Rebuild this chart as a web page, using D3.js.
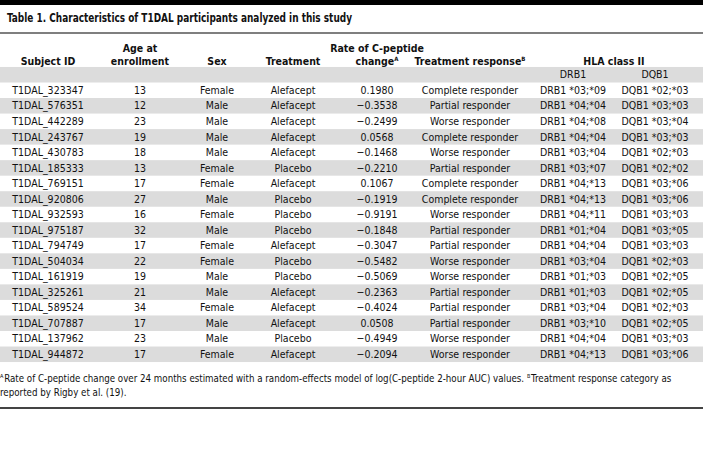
<!DOCTYPE html>
<html>
<head>
<meta charset="utf-8">
<script src="https://cdn.jsdelivr.net/npm/d3@7"></script>
<style>
  html, body { margin: 0; padding: 0; background: #fff; }
  svg { display: block; }
  text { font-family: "Liberation Sans Narrow", "DejaVu Sans Condensed", Roboto, sans-serif; fill: #111; }
</style>
</head>
<body>
<script>
const title = "Table 1. Characteristics of T1DAL participants analyzed in this study";
const subjectIds = ["T1DAL_323347","T1DAL_576351","T1DAL_442289","T1DAL_243767","T1DAL_430783","T1DAL_185333","T1DAL_769151","T1DAL_920806","T1DAL_932593","T1DAL_975187","T1DAL_794749","T1DAL_504034","T1DAL_161919","T1DAL_325261","T1DAL_589524","T1DAL_707887","T1DAL_137962","T1DAL_944872"];
const ages = [13,12,23,19,18,13,17,27,16,32,17,22,19,21,34,17,23,17];
const sexes = ["Female","Male","Male","Male","Male","Female","Female","Male","Female","Male","Female","Female","Male","Male","Female","Male","Male","Female"];
const treatments = ["Alefacept","Alefacept","Alefacept","Alefacept","Alefacept","Placebo","Alefacept","Placebo","Placebo","Placebo","Alefacept","Placebo","Placebo","Alefacept","Alefacept","Alefacept","Placebo","Alefacept"];
const rates = ["0.1980","−0.3538","−0.2499","0.0568","−0.1468","−0.2210","0.1067","−0.1919","−0.9191","−0.1848","−0.3047","−0.5482","−0.5069","−0.2363","−0.4024","0.0508","−0.4949","−0.2094"];
const responses = ["Complete responder","Partial responder","Worse responder","Complete responder","Worse responder","Partial responder","Complete responder","Complete responder","Worse responder","Partial responder","Partial responder","Worse responder","Worse responder","Partial responder","Partial responder","Partial responder","Worse responder","Worse responder"];
const drb1 = ["DRB1 *03;*09","DRB1 *04;*04","DRB1 *04;*08","DRB1 *04;*04","DRB1 *03;*04","DRB1 *03;*07","DRB1 *04;*13","DRB1 *04;*13","DRB1 *04;*11","DRB1 *01;*04","DRB1 *04;*04","DRB1 *03;*04","DRB1 *01;*03","DRB1 *01;*03","DRB1 *03;*04","DRB1 *03;*10","DRB1 *04;*04","DRB1 *04;*13"];
const dqb1 = ["DQB1 *02;*03","DQB1 *03;*03","DQB1 *03;*04","DQB1 *03;*03","DQB1 *02;*03","DQB1 *02;*02","DQB1 *03;*06","DQB1 *03;*06","DQB1 *03;*03","DQB1 *03;*05","DQB1 *03;*03","DQB1 *02;*03","DQB1 *02;*05","DQB1 *02;*05","DQB1 *02;*03","DQB1 *02;*05","DQB1 *03;*03","DQB1 *03;*06"];
const columnKeys = ["id","age","sex","treatment","rate","response","drb1","dqb1"];
const headerLine1 = ["", "Age at", "", "", "Rate of C-peptide", "", "", ""];
const headerLine2 = ["Subject ID", "enrollment", "Sex", "Treatment", "change", "Treatment response", "", ""];
const headerSup = ["", "", "", "", "A", "B", "", ""];
const groupHeader = "HLA class II";
const subHeaders = ["", "", "", "", "", "", "DRB1", "DQB1"];
const footnote1 = [["A",""],["","Rate of C-peptide change over 24 months estimated with a random-effects model of log(C-peptide 2-hour AUC) values."],["B",""],["","Treatment response category as"]];
const footnote2 = "reported by Rigby et al. (19).";

const W = 703, H = 466;
const svg = d3.select("body").append("svg").attr("width", W).attr("height", H);
svg.append("rect").attr("width", W).attr("height", H).attr("fill", "#fff");

const rows = subjectIds.map((id, i) => ({
  id, age: ages[i], sex: sexes[i], treatment: treatments[i], rate: rates[i],
  response: responses[i], drb1: drb1[i], dqb1: dqb1[i]
}));

const x = d3.scaleOrdinal().domain(columnKeys).range([48, 140, 217, 293, 377, 470, 573, 655]);
const y = d3.scaleBand().domain(d3.range(rows.length)).range([82.5, 82.5 + 15.53 * rows.length]).padding(0);
const bw = y.bandwidth();

// top black bar
svg.append("rect").attr("x", 0).attr("y", 0).attr("width", W).attr("height", 5).attr("fill", "#000");
// title
svg.append("text").attr("x", 7).attr("y", 21.5).attr("font-size", 12.5).attr("font-weight", "bold")
  .attr("textLength", 345).attr("lengthAdjust", "spacingAndGlyphs").text(title);
// title rule
svg.append("line").attr("x1", 0).attr("x2", W).attr("y1", 33).attr("y2", 33).attr("stroke", "#555").attr("stroke-width", 1.5);

// header
const fs = 10.5;
columnKeys.forEach((k, i) => {
  if (headerLine1[i]) svg.append("text").attr("x", x(k)).attr("y", 52).attr("text-anchor", "middle")
    .attr("font-size", fs).attr("font-weight", "bold").text(headerLine1[i]);
  if (headerLine2[i]) {
    const t = svg.append("text").attr("x", x(k)).attr("y", 64.5).attr("text-anchor", "middle")
      .attr("font-size", fs).attr("font-weight", "bold");
    t.append("tspan").text(headerLine2[i]);
    if (headerSup[i]) t.append("tspan").attr("font-size", 6).attr("dy", -4).text(headerSup[i]);
  }
});
svg.append("text").attr("x", (x("drb1") + x("dqb1")) / 2).attr("y", 64.5).attr("text-anchor", "middle")
  .attr("font-size", fs).attr("font-weight", "bold").text(groupHeader);

// subheader gray band
svg.append("rect").attr("x", 0).attr("y", 82.5 - bw).attr("width", W).attr("height", bw).attr("fill", "#dcdcdc");
columnKeys.forEach((k, i) => {
  if (subHeaders[i]) svg.append("text").attr("x", x(k)).attr("y", 82.5 - bw / 2 + 3.7).attr("text-anchor", "middle")
    .attr("font-size", fs).text(subHeaders[i]);
});

// rows
const g = svg.append("g");
g.selectAll("rect.band").data(rows.map((d, i) => i).filter(i => i % 2 === 1)).enter().append("rect")
  .attr("class", "band").attr("x", 0).attr("width", W).attr("y", i => y(i)).attr("height", bw).attr("fill", "#dcdcdc");

const rowG = g.selectAll("g.row").data(rows).enter().append("g").attr("class", "row")
  .attr("transform", (d, i) => `translate(0,${y(i) + bw / 2 + 3.7})`);
columnKeys.forEach(k => {
  rowG.append("text").attr("x", x(k)).attr("text-anchor", "middle").attr("font-size", fs).text(d => d[k]);
});

// footnotes: separate pieces, font size chosen so the line fits the reference width
const fy = y.range()[1];
const gapBefore = [0, 0.8, 3, 0.8];
const pieces = footnote1.map(([sup, txt], i) => {
  const isSup = !!sup;
  const t = svg.append("text").attr("y", isSup ? fy + 15.5 : fy + 20)
    .attr("font-size", isSup ? 6 : fs).text(isSup ? sup : txt);
  return { t, isSup, w: t.node().getComputedTextLength(), gap: gapBefore[i] };
});
const total = d3.sum(pieces, p => p.w + p.gap);
const k = Math.min(1, 672 / total);
const ffs = fs * k;
let cx = 0;
pieces.forEach(p => {
  p.t.attr("font-size", p.isSup ? 6 * k : ffs);
  cx += p.gap * k;
  p.t.attr("x", cx);
  cx += p.t.node().getComputedTextLength();
});
svg.append("text").attr("x", 0).attr("y", fy + 34).attr("font-size", ffs).text(footnote2);
svg.append("line").attr("x1", 0).attr("x2", W).attr("y1", 408).attr("y2", 408).attr("stroke", "#444").attr("stroke-width", 2);
</script>
</body>
</html>
